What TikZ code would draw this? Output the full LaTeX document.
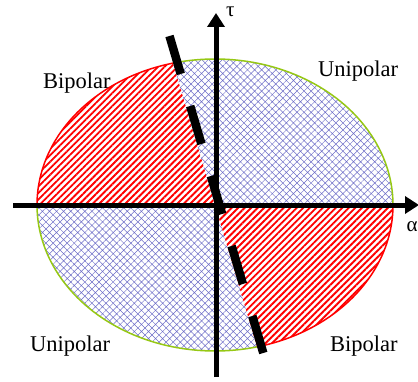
\documentclass[tikz,border=0pt]{standalone}
\usepackage{fontspec}
\setmainfont{Liberation Serif}
\usetikzlibrary{patterns.meta,arrows.meta}
\definecolor{hatchblue}{RGB}{110,110,200}
\definecolor{rimgreen}{RGB}{150,200,20}
\definecolor{stripered}{RGB}{255,0,0}
\begin{document}
\begin{tikzpicture}[x=1pt,y=1pt,
  redzone/.style={pattern={Lines[angle=45,distance=4.6pt,line width=1.9pt]},pattern color=stripered},
  bluezone/.style={pattern={Hatch[angle=45,distance=5pt,line width=0.5pt]},pattern color=hatchblue},
  redrim/.style={draw=stripered,line width=1.5pt},
  greenrim/.style={draw=rimgreen,line width=1.5pt},
  axisline/.style={line width=5pt,-{Triangle[length=14pt,width=17pt]}},
  divider/.style={line width=8.5pt,dash pattern=on 39.6pt off 33.4pt},
  lab/.style={font=\fontsize{22.5}{22.5}\selectfont,anchor=base west,inner sep=0pt},
  greek/.style={font=\fontsize{21}{21}\selectfont,anchor=base west,inner sep=0pt}]
\fill[white] (0,0) rectangle (418,381);
\useasboundingbox (0,0) rectangle (418,381);
\coordinate (C) at (215,176);
% regions
\path[redzone] (C) -- ([shift={(103.65:178pt and 146pt)}]C)
  arc[start angle=103.65,end angle=180,x radius=178pt,y radius=146pt] -- cycle;
\path[bluezone] (C) -- ([shift={(0:178pt and 146pt)}]C)
  arc[start angle=0,end angle=103.65,x radius=178pt,y radius=146pt] -- cycle;
\path[bluezone] (C) -- ([shift={(180:178pt and 146pt)}]C)
  arc[start angle=180,end angle=283.65,x radius=178pt,y radius=146pt] -- cycle;
\path[redzone] (C) -- ([shift={(283.65:178pt and 146pt)}]C)
  arc[start angle=283.65,end angle=360,x radius=178pt,y radius=146pt] -- cycle;
% rims
\draw[redrim] ([shift={(103.65:178pt and 146pt)}]C)
  arc[start angle=103.65,end angle=180,x radius=178pt,y radius=146pt];
\draw[greenrim] ([shift={(0:178pt and 146pt)}]C)
  arc[start angle=0,end angle=103.65,x radius=178pt,y radius=146pt];
\draw[greenrim] ([shift={(180:178pt and 146pt)}]C)
  arc[start angle=180,end angle=283.65,x radius=178pt,y radius=146pt];
\draw[redrim] ([shift={(283.65:178pt and 146pt)}]C)
  arc[start angle=283.65,end angle=360,x radius=178pt,y radius=146pt];
% axes
\coordinate (hL) at (13,176);
\coordinate (hR) at (419,176);
\coordinate (vB) at (216,4);
\coordinate (vT) at (216,368);
\draw[axisline] (hL) -- (hR);
\draw[axisline] (vB) -- (vT);
% divider
\coordinate (dT) at (169.5,345);
\coordinate (dB) at (263.3,28);
\draw[divider] (dT) -- (dB);
% labels
\node[lab] (bipTL) at (43,292.7) {Bipolar};
\node[lab] (uniTR) at (318,304.3) {Unipolar};
\node[lab] (uniBL) at (30,29.3) {Unipolar};
\node[lab] (bipBR) at (330,29.3) {Bipolar};
\node[greek] (tau) at (226,364.5) {τ};
\node[greek] (alpha) at (406.5,149.5) {α};
\end{tikzpicture}
\end{document}
